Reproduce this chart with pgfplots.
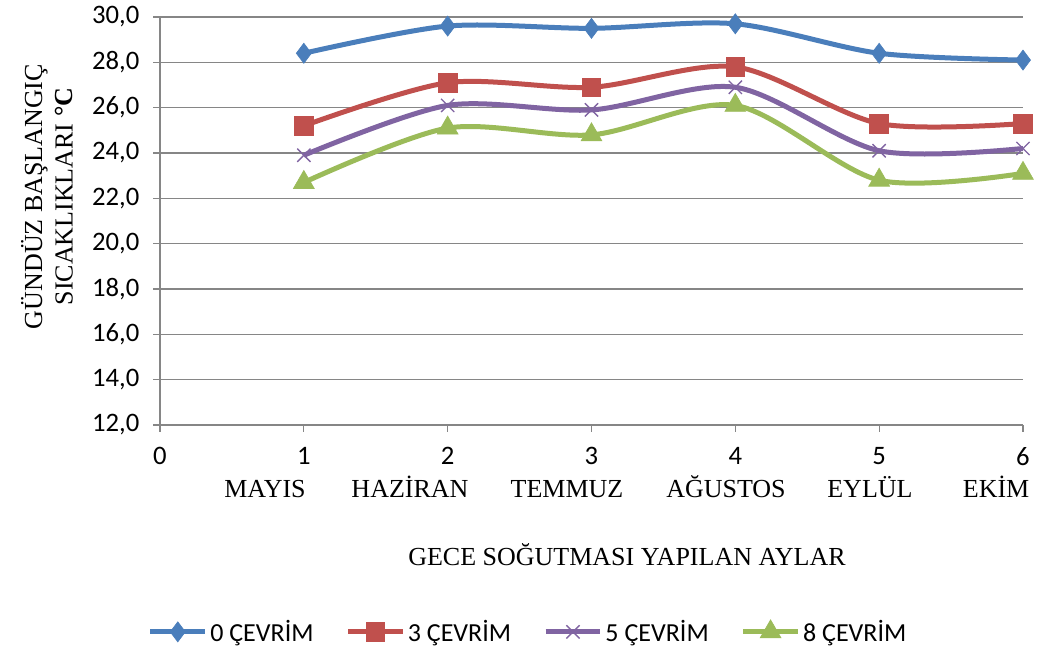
\documentclass[border=0pt]{standalone}
\usepackage{pgfplots}
\pgfplotsset{compat=1.18}
\usepackage{fontspec}
\setmainfont{Liberation Serif}
\newfontfamily\calib{Carlito}
\definecolor{cblue}{HTML}{4A7EBB}
\definecolor{cred}{HTML}{C0504D}
\definecolor{cpurple}{HTML}{8064A2}
\definecolor{cgreen}{HTML}{9BBB59}
\definecolor{cgrid}{HTML}{868686}
\newcommand{\fs}{\fontsize{19.5}{19}\selectfont}
\begin{document}
\begin{tikzpicture}
\path[use as bounding box] (-120pt,-169.5pt) rectangle (660pt,318.75pt);
\begin{axis}[
  scale only axis,
  anchor=south west,
  at={(0pt,0pt)},
  width=647.25pt, height=306pt,
  xmin=0, xmax=6, ymin=12, ymax=30,
  xtick={0,1,2,3,4,5,6},
  ytick={12,14,16,18,20,22,24,26,28,30},
  axis lines*=left,
  axis line style={cgrid, line width=0.9pt},
  ymajorgrids,
  grid style={cgrid, line width=0.9pt},
  tick style={cgrid, line width=0.9pt},
  tick align=outside,
  major tick length=5pt,
  y tick label style={/pgf/number format/.cd, fixed, fixed zerofill, precision=1, use comma, /tikz/.cd},
  yticklabel style={font=\calib\fontsize{20}{20}\selectfont, xshift=-7pt},
  xticklabel style={font=\calib\fontsize{20}{20}\selectfont, yshift=-8pt},
  /pgf/number format/assume math mode=true,
  clip=false,
  legend columns=4,
  legend style={at={(rel axis cs:0.427,-0.507)}, anchor=center, draw=none, font=\calib\fs,
    /tikz/every even column/.append style={column sep=22pt}},
  legend image code/.code={%
    \draw[#1, mark=none] (0pt,0pt) -- (41pt,0pt);
    \draw[#1, only marks] plot coordinates {(20.5pt,0pt)};
  },
  every axis plot/.append style={line width=3.75pt, smooth, tension=0.5},
]
\addplot[cblue, mark=diamond*, mark size=7.5pt, mark options={solid, line width=0.5pt}] coordinates {
 (1,28.4) (2,29.6) (3,29.5) (4,29.7) (5,28.4) (6,28.1)};
\addlegendentry{0 ÇEVRİM}
\addplot[cred, mark=square*, mark size=7pt, mark options={solid, line width=0.5pt}] coordinates {
 (1,25.2) (2,27.1) (3,26.9) (4,27.8) (5,25.3) (6,25.3)};
\addlegendentry{3 ÇEVRİM}
\addplot[cpurple, mark=x, mark size=7pt, mark options={solid, line width=1pt}] coordinates {
 (1,23.9) (2,26.1) (3,25.9) (4,26.9) (5,24.1) (6,24.2)};
\addlegendentry{5 ÇEVRİM}
\addplot[cgreen, mark=triangle*, mark size=9pt, mark options={solid, line width=0.5pt}] coordinates {
 (1,22.7) (2,25.1) (3,24.8) (4,26.1) (5,22.8) (6,23.1)};
\addlegendentry{8 ÇEVRİM}
% month names
\node[font=\fs, anchor=base] at (axis cs:0.730,8.78) {MAYIS};
\node[font=\fs, anchor=base] at (axis cs:1.738,8.78) {HAZİRAN};
\node[font=\fs, anchor=base] at (axis cs:2.830,8.78) {TEMMUZ};
\node[font=\fs, anchor=base] at (axis cs:3.935,8.78) {AĞUSTOS};
\node[font=\fs, anchor=base] at (axis cs:4.936,8.78) {EYLÜL};
\node[font=\fs, anchor=base] at (axis cs:5.813,8.78) {EKİM};
\node[font=\fs, anchor=base] at (axis cs:3.247,5.82) {GECE SOĞUTMASI YAPILAN AYLAR};
\node[font=\fs, rotate=90, align=center, anchor=center] at (rel axis cs:-0.131,0.560) {GÜNDÜZ BAŞLANGIÇ\\[4pt]SICAKLIKLARI \textbf{°C}};
\end{axis}
\end{tikzpicture}
\end{document}
